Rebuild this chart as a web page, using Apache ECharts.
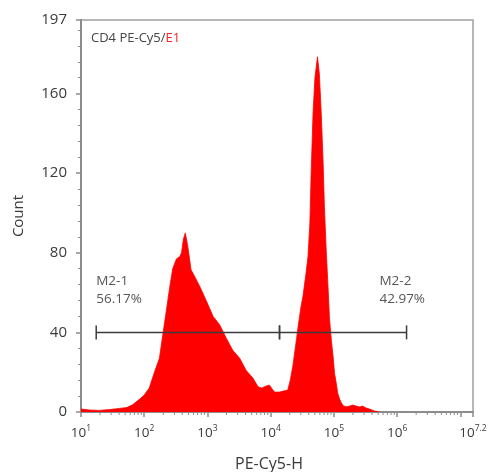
<!DOCTYPE html>
<html>
<head>
<meta charset="utf-8">
<title>CD4 PE-Cy5 histogram</title>
<script src="https://cdn.jsdelivr.net/npm/echarts@6/dist/echarts.min.js"></script>
<style>
  html, body { margin: 0; padding: 0; background: #fff; }
  #chart { width: 488px; height: 472px; }
</style>
</head>
<body>
<div id="chart"></div>
<script>
// PE-Cy5-H intensity (channel value) and event count per bin
const intensity = [
  10, 13.5, 19.5, 28.2, 40.7, 52.5, 64.6, 85.1, 100, 120, 145, 174, 195, 224, 251, 282,
  324, 363, 389, 417, 447, 490, 550, 631, 759, 955, 1230, 1549, 1995, 2512, 3236, 4074,
  5248, 6310, 7244, 8318, 9550, 11480, 13800, 15850, 18620, 20420, 22390, 25700, 26920,
  30200, 32360, 36310, 38900, 41690, 43650, 46770, 50120, 54950, 58880, 63100, 67610,
  70790, 75860, 81280, 85110, 91200, 97720, 102300, 109600, 114800, 123000, 131800,
  141300, 158500, 177800, 199500, 223900, 257000, 281800, 323600, 363100, 436500, 524800
];
const counts = [
  1.5, 1, 0.8, 1.2, 1.8, 2.2, 3.5, 6.5, 8.5, 12, 20, 27, 38, 51, 62, 72,
  77, 78, 80, 87, 90, 83, 71.5, 68, 63, 56, 48, 44, 37, 31, 27, 21,
  17, 12.7, 12, 13, 13.5, 10, 10, 10.5, 11, 16, 23, 37, 42,
  53, 58, 70, 78, 95, 120, 150, 168, 178.5, 170, 150, 125,
  103, 80, 61, 47, 36, 27, 19.5, 14, 9.5, 6.5, 4.5,
  3, 2.7, 3, 3.5, 3, 2.5, 3, 2, 1.5, 0.5, 0
];

// Marker gates
const gateNames = ['M2-1', 'M2-2'];
const gatePercents = ['56.17%', '42.97%'];
const gateStart = [17.4, 13800];
const gateEnd = [13800, 1410000];
const gateLevel = [40, 40];
const gateLabelAt = [17.4, 525000];

// Axis ticks
const yTicks = [0, 40, 80, 120, 160, 197];
const xMin = 10;
const xMax = 15848932; // 10^7.2
const xMinorTicks = [
  20, 30, 40, 50, 60, 70, 80, 90,
  200, 300, 400, 500, 600, 700, 800, 900,
  2000, 3000, 4000, 5000, 6000, 7000, 8000, 9000,
  20000, 30000, 40000, 50000, 60000, 70000, 80000, 90000,
  200000, 300000, 400000, 500000, 600000, 700000, 800000, 900000,
  2000000, 3000000, 4000000, 5000000, 6000000, 7000000, 8000000, 9000000
];

const FONT = '"Open Sans", "Noto Sans", sans-serif';
const AXIS_COLOR = '#8c8c8c';
const TEXT_COLOR = '#3a3a3a';

const chart = echarts.init(document.getElementById('chart'));

chart.setOption({
  animation: false,
  backgroundColor: '#fff',
  title: {
    text: '{a|CD4 PE-Cy5/}{b|E1}',
    left: 86,
    top: 25,
    textStyle: {
      fontWeight: 'normal',
      rich: {
        a: { fontFamily: FONT, fontSize: 13, fontWeight: 'normal', color: '#444', lineHeight: 16 },
        b: { fontFamily: FONT, fontSize: 13, fontWeight: 'normal', color: '#f22', lineHeight: 16 }
      }
    }
  },
  grid: {
    left: 81, right: 15, top: 20, bottom: 60,
    outerBoundsMode: 'none',
    containLabel: false,
    show: true,
    borderColor: '#a0a0a0',
    borderWidth: 1.5
  },
  xAxis: {
    type: 'log',
    logBase: 10,
    min: xMin,
    max: xMax,
    name: 'PE-Cy5-H',
    nameLocation: 'middle',
    nameGap: 44,
    nameTextStyle: { fontFamily: FONT, fontSize: 16, color: TEXT_COLOR, padding: [0, 16, 0, 0] },
    axisLine: { lineStyle: { color: AXIS_COLOR, width: 2 } },
    axisTick: { length: 5, lineStyle: { color: AXIS_COLOR, width: 1.5 } },
    splitLine: { show: false },
    axisLabel: {
      margin: 12,
      showMinLabel: true,
      showMaxLabel: true,
      hideOverlap: false,
      formatter: function (v) {
        const e = Math.round(Math.log10(v) * 10) / 10;
        if (e === 7) return '';
        return '{b|10}{s|' + e + '}';
      },
      rich: {
        b: { fontFamily: FONT, fontSize: 13.5, color: TEXT_COLOR, lineHeight: 16, verticalAlign: 'bottom' },
        s: { fontFamily: FONT, fontSize: 8.5, color: TEXT_COLOR, lineHeight: 10, verticalAlign: 'top' }
      }
    }
  },
  yAxis: {
    type: 'value',
    min: yTicks[0],
    max: yTicks[yTicks.length - 1],
    interval: 40,
    name: 'Count',
    nameLocation: 'middle',
    nameGap: 55,
    nameTextStyle: { fontFamily: FONT, fontSize: 15, color: TEXT_COLOR },
    axisLine: { show: true, lineStyle: { color: AXIS_COLOR, width: 2 } },
    axisTick: { show: true, length: 5, lineStyle: { color: AXIS_COLOR, width: 1.5 } },
    minorTick: { show: true, splitNumber: 5, length: 3, lineStyle: { color: AXIS_COLOR, width: 1 } },
    splitLine: { show: false },
    axisLabel: {
      margin: 14,
      fontFamily: FONT,
      fontSize: 15,
      color: TEXT_COLOR,
      showMaxLabel: true
    }
  },
  series: [
    {
      name: 'Count',
      type: 'line',
      data: intensity.map((x, i) => [x, counts[i]]),
      symbol: 'none',
      smooth: false,
      lineStyle: { width: 0.8, color: '#ff0000' },
      areaStyle: { color: '#ff0000', opacity: 1 },
      z: 2
    },
    {
      // log-spaced minor ticks under the x axis
      name: 'xMinor',
      type: 'custom',
      silent: true,
      clip: false,
      data: xMinorTicks.map(v => [v, 0]),
      renderItem: function (params, api) {
        const p = api.coord([api.value(0), 0]);
        return {
          type: 'line',
          shape: { x1: p[0], y1: p[1], x2: p[0], y2: p[1] + 3 },
          style: { stroke: AXIS_COLOR, lineWidth: 1 }
        };
      },
      z: 5
    },
    {
      // marker gates with their labels
      name: 'gates',
      type: 'custom',
      silent: true,
      clip: false,
      data: gateNames.map((n, i) => [gateStart[i], gateLevel[i], gateEnd[i], gateLabelAt[i]]),
      renderItem: function (params, api) {
        const i = params.dataIndex;
        const a = api.coord([api.value(0), api.value(1)]);
        const b = api.coord([api.value(2), api.value(1)]);
        const l = api.coord([api.value(3), api.value(1)]);
        const stroke = { stroke: '#3c3c3c', lineWidth: 1.5 };
        const txt = { fontFamily: FONT, fontSize: 13.5, fill: '#555', textAlign: 'left', textVerticalAlign: 'middle' };
        return {
          type: 'group',
          children: [
            { type: 'line', shape: { x1: a[0], y1: a[1], x2: b[0], y2: b[1] }, style: stroke },
            { type: 'line', shape: { x1: a[0], y1: a[1] - 7, x2: a[0], y2: a[1] + 7 }, style: stroke },
            { type: 'line', shape: { x1: b[0], y1: b[1] - 7, x2: b[0], y2: b[1] + 7 }, style: stroke },
            { type: 'text', style: Object.assign({ text: gateNames[i], x: l[0], y: a[1] - 51 }, txt) },
            { type: 'text', style: Object.assign({ text: gatePercents[i], x: l[0], y: a[1] - 33 }, txt) }
          ]
        };
      },
      z: 6
    }
  ]
});
</script>
</body>
</html>
